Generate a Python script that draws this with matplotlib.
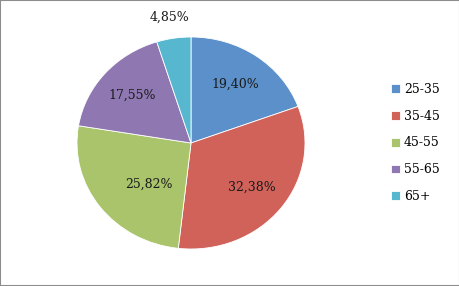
import numpy as np
import matplotlib.pyplot as plt
from matplotlib.patches import Rectangle

# age group shares (%)
labels = ["25-35", "35-45", "45-55", "55-65", "65+"]
shares = [19.40, 32.38, 25.82, 17.55, 4.85]
colors = ["#5B90CA", "#D0625A", "#A9C46A", "#8F78B1", "#56B7CF"]

plt.rcParams["font.family"] = ["DejaVu Serif"]

fig = plt.figure(figsize=(4.6, 2.86), dpi=100)
fig.patches.append(Rectangle((0, 0), 1, 1, transform=fig.transFigure,
                             fill=False, edgecolor="#8c8c8c", linewidth=1.5))

ax = fig.add_axes([77 / 460, 37 / 286, 228 / 460, 212 / 286])
wedges, texts, autotexts = ax.pie(
    shares, colors=colors, startangle=90, counterclock=False,
    autopct=lambda p: f"{p:.2f}%".replace(".", ","), pctdistance=0.68,
    wedgeprops=dict(edgecolor="white", linewidth=0.6),
    textprops=dict(fontsize=9, color="#1a1a1a"))
ax.set_aspect("auto")
ax.set_xlim(-1, 1)
ax.set_ylim(-1, 1)

# small slice label sits outside the pie
w = wedges[-1]
mid = np.deg2rad((w.theta1 + w.theta2) / 2)
autotexts[-1].set_position((1.22 * np.cos(mid), 1.2 * np.sin(mid)))
autotexts[2].set_position((-0.37, -0.39))

fig.legend(wedges, labels, loc="center left", bbox_to_anchor=(380 / 460, 0.5),
           frameon=False, fontsize=9, handlelength=0.7, handleheight=0.7,
           handletextpad=0.3, labelspacing=1.1)

fig.savefig("out.png", dpi=100)
